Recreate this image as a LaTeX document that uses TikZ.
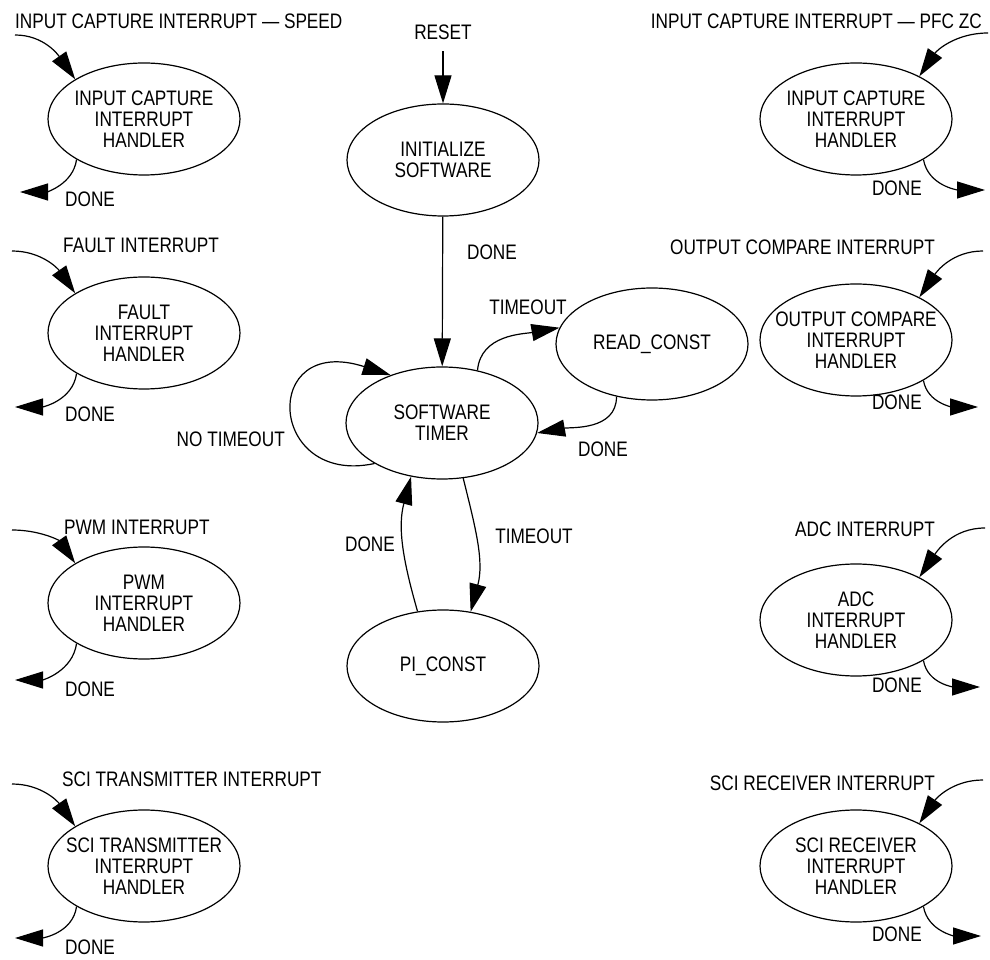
\documentclass[tikz,border=0pt]{standalone}
\usepackage{fontspec}
\setmainfont{Liberation Sans}[FakeStretch=0.82]
\usetikzlibrary{shapes.geometric,arrows.meta,positioning}

\tikzset{
    state/.style={ellipse, draw, line width=1.2pt, minimum width=192pt, minimum height=112pt,
        inner xsep=-40pt, inner ysep=0pt, align=center},
    tag/.style={inner sep=0pt},
    flow/.style={line width=1.2pt, -{Triangle[length=28pt,width=17pt]}},
}

\begin{document}
\begin{tikzpicture}[x=1pt,y=1pt, every node/.style={font=\fontsize{21pt}{21pt}\selectfont}]
    \useasboundingbox (0,0) rectangle (990,959);

    \node[state] (init) at (443,799) {INITIALIZE\\SOFTWARE};
    \node[state] (tmr) at (442,536) {SOFTWARE\\TIMER};
    \node[state] (rdc) at (652,615) {READ\_CONST};
    \node[state] (pic) at (443,293) {PI\_CONST};

    \node[tag, above=63pt of init] (reset) {RESET};
    \coordinate[below=11pt of reset] (rst-in);

    \draw[flow] (rst-in) -- (init);
    \draw[flow] (init) -- (tmr);
    \node[tag] (d0) at (492,707) {DONE};

    \draw[flow] (tmr.211) .. controls +(-107,-23) and +(-131,42) .. (tmr.137);
    \node[tag, anchor=east] (nt) at (285,520) {NO TIMEOUT};

    \draw[flow] (tmr.56) to[out=85,in=190] (rdc.170);
    \node[tag] (t1) at (528,652) {TIMEOUT};
    \draw[flow] (rdc.236) to[out=270,in=10] (tmr.-6);
    \node[tag] (d1) at (603,510) {DONE};
    \draw[flow] (tmr.291) to[out=284,in=75] (pic.63);
    \node[tag] (t2) at (534,423) {TIMEOUT};
    \draw[flow] (pic.115) to[out=106,in=255] (tmr.240);
    \node[tag] (d2) at (370,415) {DONE};

    % left column
    \node[state] (icspd) at (144,840) {INPUT CAPTURE\\INTERRUPT\\HANDLER};
    \node[tag, anchor=west] (icspd-lbl) at (15,938) {INPUT CAPTURE INTERRUPT — SPEED};
    \coordinate (icspd-in) at (15,924);
    \coordinate (icspd-out) at (20,767);
    \draw[flow] (icspd-in) to[out=0,in=125] (icspd.150);
    \draw[flow] (icspd.211) to[out=262,in=0] (icspd-out);
    \node[tag, anchor=west] (icspd-done) at (65,760) {DONE};

    \node[state] (flt) at (144,626) {FAULT\\INTERRUPT\\HANDLER};
    \node[tag, anchor=west] (flt-lbl) at (63,714) {FAULT INTERRUPT};
    \coordinate (flt-in) at (12,708);
    \coordinate (flt-out) at (15,552);
    \draw[flow] (flt-in) to[out=0,in=125] (flt.150);
    \draw[flow] (flt.211) to[out=262,in=0] (flt-out);
    \node[tag, anchor=west] (flt-done) at (65,545) {DONE};

    \node[state] (pwm) at (144,356) {PWM\\INTERRUPT\\HANDLER};
    \node[tag, anchor=west] (pwm-lbl) at (64,432) {PWM INTERRUPT};
    \coordinate (pwm-in) at (12,429);
    \coordinate (pwm-out) at (15,279);
    \draw[flow] (pwm-in) to[out=0,in=125] (pwm.150);
    \draw[flow] (pwm.211) to[out=262,in=0] (pwm-out);
    \node[tag, anchor=west] (pwm-done) at (65,270) {DONE};

    \node[state] (scitx) at (144,93) {SCI TRANSMITTER\\INTERRUPT\\HANDLER};
    \node[tag, anchor=west] (scitx-lbl) at (62,180) {SCI TRANSMITTER INTERRUPT};
    \coordinate (scitx-in) at (12,175);
    \coordinate (scitx-out) at (15,21);
    \draw[flow] (scitx-in) to[out=0,in=125] (scitx.150);
    \draw[flow] (scitx.211) to[out=262,in=0] (scitx-out);
    \node[tag, anchor=west] (scitx-done) at (65,12) {DONE};

    % right column
    \node[state] (icpfc) at (856,840) {INPUT CAPTURE\\INTERRUPT\\HANDLER};
    \node[tag, anchor=east] (icpfc-lbl) at (982,938) {INPUT CAPTURE INTERRUPT — PFC ZC};
    \coordinate (icpfc-in) at (988,926);
    \coordinate (icpfc-out) at (985,769);
    \draw[flow] (icpfc-in) to[out=180,in=56] (icpfc.34);
    \draw[flow] (icpfc.329) to[out=280,in=180] (icpfc-out);
    \node[tag, anchor=east] (icpfc-done) at (922,771) {DONE};

    \node[state] (ocmp) at (856,619) {OUTPUT COMPARE\\INTERRUPT\\HANDLER};
    \node[tag, anchor=east] (ocmp-lbl) at (935,712) {OUTPUT COMPARE INTERRUPT};
    \coordinate (ocmp-in) at (983,708);
    \coordinate (ocmp-out) at (978,552);
    \draw[flow] (ocmp-in) to[out=180,in=56] (ocmp.34);
    \draw[flow] (ocmp.329) to[out=280,in=180] (ocmp-out);
    \node[tag, anchor=east] (ocmp-done) at (922,557) {DONE};

    \node[state] (adc) at (856,339) {ADC\\INTERRUPT\\HANDLER};
    \node[tag, anchor=east] (adc-lbl) at (935,430) {ADC INTERRUPT};
    \coordinate (adc-in) at (985,431);
    \coordinate (adc-out) at (980,272);
    \draw[flow] (adc-in) to[out=180,in=56] (adc.34);
    \draw[flow] (adc.329) to[out=280,in=180] (adc-out);
    \node[tag, anchor=east] (adc-done) at (922,274) {DONE};

    \node[state] (scirx) at (856,93) {SCI RECEIVER\\INTERRUPT\\HANDLER};
    \node[tag, anchor=east] (scirx-lbl) at (935,176) {SCI RECEIVER INTERRUPT};
    \coordinate (scirx-in) at (983,179);
    \coordinate (scirx-out) at (981,23);
    \draw[flow] (scirx-in) to[out=180,in=56] (scirx.34);
    \draw[flow] (scirx.329) to[out=280,in=180] (scirx-out);
    \node[tag, anchor=east] (scirx-done) at (922,25) {DONE};
\end{tikzpicture}
\end{document}
